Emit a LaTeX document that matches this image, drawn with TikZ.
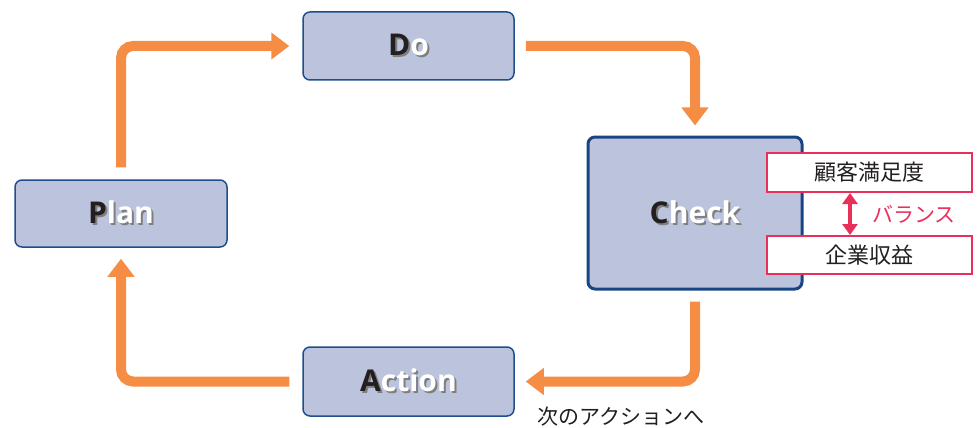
\documentclass[tikz,border=0pt]{standalone}
\usepackage{fontspec}
\setmainfont{Open Sans}
\newfontfamily\jp{Noto Sans CJK JP}
\usetikzlibrary{arrows.meta}
\definecolor{boxfill}{HTML}{BCC4DD}
\definecolor{boxline}{HTML}{1F4E8C}
\definecolor{checkline}{HTML}{1A4585}
\definecolor{flow}{HTML}{F68D45}
\definecolor{pinkc}{HTML}{E8305A}
\definecolor{darktext}{HTML}{231F20}
\definecolor{shadowgray}{HTML}{7F7F7F}
\newcommand\shtext[2]{\rlap{\hspace{2pt}\raisebox{-2pt}{\color{shadowgray}#1#2}}{\color{darktext}#1}{\color{white}#2}}
\tikzset{
  pdcabox/.style={draw=boxline, line width=1.5pt, fill=boxfill, rounded corners=7pt, inner sep=0pt},
  boxtext/.style={font=\fontsize{30}{32}\selectfont\bfseries, inner sep=0pt},
  flowarrow/.style={draw=flow, line width=10pt, rounded corners=12pt, -{Triangle[length=18pt,width=26pt]}},
  pinkbox/.style={draw=pinkc, line width=2pt, fill=white, inner sep=0pt},
  jptext/.style={font=\jp\fontsize{22}{24}\selectfont, text=darktext, inner sep=0pt}
}
\begin{document}
\begin{tikzpicture}[x=1pt,y=-1pt]
\useasboundingbox (0,0) rectangle (978,428);
% boxes
\node[pdcabox, minimum width=211pt, minimum height=68pt] (do) at (408.5,46) {};
\node[pdcabox, minimum width=212pt, minimum height=67pt] (plan) at (121,213.5) {};
\node[pdcabox, minimum width=211pt, minimum height=69pt] (action) at (408.5,381.5) {};
\node[pdcabox, draw=checkline, line width=3pt, minimum width=214pt, minimum height=152pt] (check) at (695,213) {};
% box labels
\node[boxtext] (dot) at (do.center) {\shtext{D}{o}};
\node[boxtext] (plant) at (plan.center) {\shtext{P}{lan}};
\node[boxtext] (actiont) at (action.center) {\shtext{A}{ction}};
\node[boxtext] (checkt) at (check.center) {\shtext{C}{heck}};
% flow arrows
\draw[flowarrow] ([yshift=12pt]plan.north) |- ([xshift=-13pt]do.west);
\draw[flowarrow] ([xshift=11pt]do.east) -| ([yshift=10pt]check.north);
\draw[flowarrow] ([yshift=-11pt]check.south) |- ([xshift=11pt]action.east);
\draw[flowarrow] ([xshift=-13pt]action.west) -| ([yshift=-11pt]plan.south);
% balance boxes
\node[pinkbox, minimum width=205pt, minimum height=39pt] (sat) at (869.5,172.5) {};
\node[jptext] (satt) at (sat.center) {顧客満足度};
\node[pinkbox, minimum width=205pt, minimum height=38pt] (rev) at (869.5,255) {};
\node[jptext] (revt) at (rev.center) {企業収益};
\draw[draw=pinkc, line width=4pt, {Triangle[length=11pt,width=15pt]}-{Triangle[length=11pt,width=15pt]}] (sat.south -| 850,0) -- (rev.north -| 850,0);
\node[jptext, font=\jp\fontsize{21}{24}\selectfont, text=pinkc, anchor=west] (bal) at (872,214) {バランス};
% next action
\node[jptext, font=\jp\fontsize{21}{24}\selectfont, anchor=west] (next) at (537,417) {次のアクションへ};
\end{tikzpicture}
\end{document}
